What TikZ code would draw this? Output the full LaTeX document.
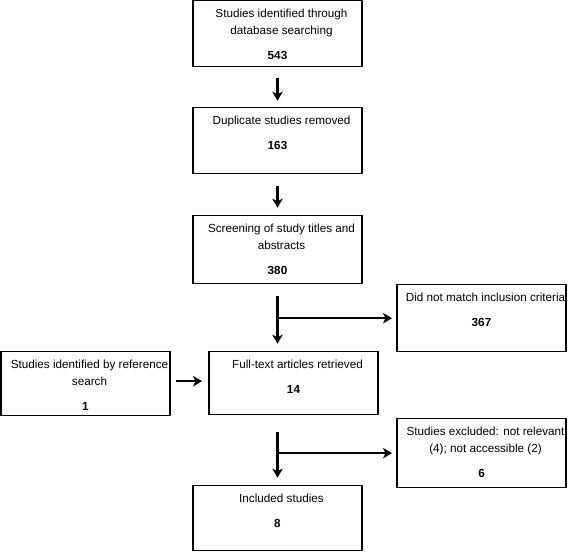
\documentclass[tikz,border=0pt]{standalone}
\usepackage{fontspec}
\setmainfont{Liberation Sans}
\usetikzlibrary{arrows.meta,positioning}

\newcommand{\boxnum}[1]{\hspace*{-8pt}\textbf{#1}}

\begin{document}
\begin{tikzpicture}[
    x=1pt, y=1pt,
    box/.style={
       rectangle,
       draw=black,
       line width=1.3pt,
       inner sep=0pt,
       outer sep=0pt,
       font=\fontsize{11.7}{17}\selectfont,
       execute at begin node={\begin{minipage}[c][#1][t]{169pt}\centering
         \leftskip=8pt plus 1fil\rule{0pt}{17pt}},
       execute at end node={\end{minipage}}},
    box/.default=66pt,
    myarrow/.style={-{Stealth[length=9pt,width=10.5pt,inset=2.5pt]}, line width=2.2pt},
    node distance=41pt and 39pt
    ]
    \useasboundingbox (0,0) rectangle (568,-553);

    \node[box, anchor=north west] (db) at (193,-0.7) {Studies identified through\\database searching\\[8pt]\boxnum{543}};
    \node[box, below=of db] (dup) {Duplicate studies removed\\[8pt]\boxnum{163}};
    \node[box=68pt, below=42pt of dup] (screen) {Screening of study titles and\\abstracts\\[8pt]\boxnum{380}};
    \node[box=63pt, below=68pt of screen, xshift=16pt] (fulltext) {Full-text articles retrieved\\[8pt]\boxnum{14}};
    \node[box=64pt, left=of fulltext] (refsearch) {Studies identified by reference\\search\\[8pt]\boxnum{1}};
    \node[box=67pt, below right=1pt and 35pt of screen.south east] (nomatch) {Did not match inclusion criteria\\[8pt]\boxnum{367}};
    \node[box=69pt, below=67pt of nomatch] (excluded) {Studies excluded: not relevant\\(4); not accessible (2)\\[8pt]\boxnum{6}};
    \node[box=65pt, below=71pt of fulltext, xshift=-16pt] (included) {Included studies\\[8pt]\boxnum{8}};

    % main line down the middle
    \draw[myarrow, shorten <=11pt, shorten >=7pt] (db) -- (dup);
    \draw[myarrow, shorten <=12pt, shorten >=8pt] (dup) -- (screen);
    \draw[myarrow, shorten <=12pt, shorten >=8pt] (screen.south) -- (screen.south |- fulltext.north);
    \draw[myarrow, shorten <=17pt, shorten >=8pt] (included.north |- fulltext.south) -- (included.north);

    % side branches
    \draw[myarrow, shorten >=5pt] (screen.south |- nomatch.west) -- (nomatch.west);
    \draw[myarrow, shorten <=6pt, shorten >=7pt] ([yshift=2pt]refsearch.east) -- ([yshift=2pt]refsearch.east -| fulltext.west);
    \draw[myarrow, shorten >=5pt] (included.north |- excluded.west) -- (excluded.west);
\end{tikzpicture}
\end{document}
